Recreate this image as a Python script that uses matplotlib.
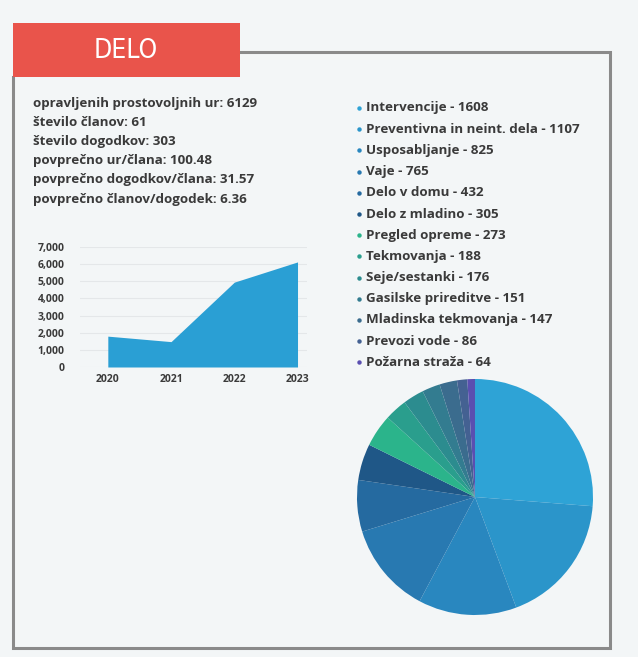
import matplotlib
matplotlib.use("Agg")
import matplotlib.pyplot as plt
from matplotlib.patches import Rectangle
from matplotlib.ticker import FuncFormatter

# ---- data ----
title = "DELO"
stats_lines = [
    "opravljenih prostovoljnih ur: 6129",
    "število članov: 61",
    "število dogodkov: 303",
    "povprečno ur/člana: 100.48",
    "povprečno dogodkov/člana: 31.57",
    "povprečno članov/dogodek: 6.36",
]
years = [2020, 2021, 2022, 2023]
hours = [1800, 1480, 4950, 6129]
y_ticks = [0, 1000, 2000, 3000, 4000, 5000, 6000, 7000]

categories = ["Intervencije", "Preventivna in neint. dela", "Usposabljanje", "Vaje",
              "Delo v domu", "Delo z mladino", "Pregled opreme", "Tekmovanja",
              "Seje/sestanki", "Gasilske prireditve", "Mladinska tekmovanja",
              "Prevozi vode", "Požarna straža"]
values = [1608, 1107, 825, 765, 432, 305, 273, 188, 176, 151, 147, 86, 64]
colors = ["#2ea3d6", "#2b95ca", "#2987bf", "#2879b1", "#256aa0", "#1f5787",
          "#2bb48b", "#2a9e8d", "#2c8c8f", "#337c90", "#3b6c8e", "#446192", "#5a4fb0"]

W, H = 638, 657
BG = "#f3f6f7"
TXT = "#3a3a3a"
plt.rcParams['font.family'] = ['Open Sans', 'DejaVu Sans']

fig = plt.figure(figsize=(W / 100, H / 100), dpi=100, facecolor=BG)

def rect(x, y, w, h):
    return [x / W, 1 - (y + h) / H, w / W, h / H]

# background / frame axes
bg = fig.add_axes([0, 0, 1, 1])
bg.set_xlim(0, W)
bg.set_ylim(H, 0)
bg.axis("off")
bg.plot([13, 13, 610, 610, 240], [77, 648, 648, 52, 52], color="#8a8a8a", lw=2.2,
        solid_joinstyle="miter", zorder=1)
bg.add_patch(Rectangle((13, 23), 227, 54, facecolor="#e9544b", edgecolor="none", zorder=2))
bg.text(126, 51, title, color="white", fontsize=19, ha="center", va="center",
        family="DejaVu Sans", fontstretch="condensed", zorder=3)

for i, line in enumerate(stats_lines):
    bg.text(33, 103 + i * 19.2, line, fontsize=9.6, color=TXT, fontweight="bold",
            ha="left", va="center")

# legend as text
for i, (c, v, col) in enumerate(zip(categories, values, colors)):
    yy = 108 + i * 21.2
    bg.plot([359], [yy], marker="o", ms=3.2, color=col, mec="none")
    bg.text(366, yy, f"{c} - {v}", fontsize=9.6, color=TXT, fontweight="bold",
            ha="left", va="center")

# area chart
ax = fig.add_axes(rect(80, 247, 227, 120))
ax.set_facecolor(BG)
ax.fill_between(years, hours, 0, color="#2a9fd4", lw=0)
ax.set_xlim(2019.56, 2023.15)
ax.set_ylim(0, 7000)
ax.set_yticks(y_ticks)
ax.set_xticks(years)
ax.yaxis.set_major_formatter(FuncFormatter(lambda v, p: f"{int(v):,}"))
ax.grid(axis="y", color="#e4e7e9", lw=0.8)
ax.set_axisbelow(True)
for s in ax.spines.values():
    s.set_visible(False)
ax.tick_params(length=0, labelsize=7.5, labelcolor=TXT)
ax.tick_params(axis="y", pad=11)
ax.tick_params(axis="x", pad=5)
for lab in ax.get_xticklabels() + ax.get_yticklabels():
    lab.set_fontweight("bold")

# pie
pax = fig.add_axes(rect(357, 379, 236, 236))
pax.pie(values, colors=colors, startangle=90, counterclock=False,
        wedgeprops=dict(linewidth=0))
pax.set_xlim(-1.0, 1.0)
pax.set_ylim(-1.0, 1.0)
pax.set_aspect("equal")
pax.axis("off")

fig.savefig("out.png", dpi=100, facecolor=BG)
